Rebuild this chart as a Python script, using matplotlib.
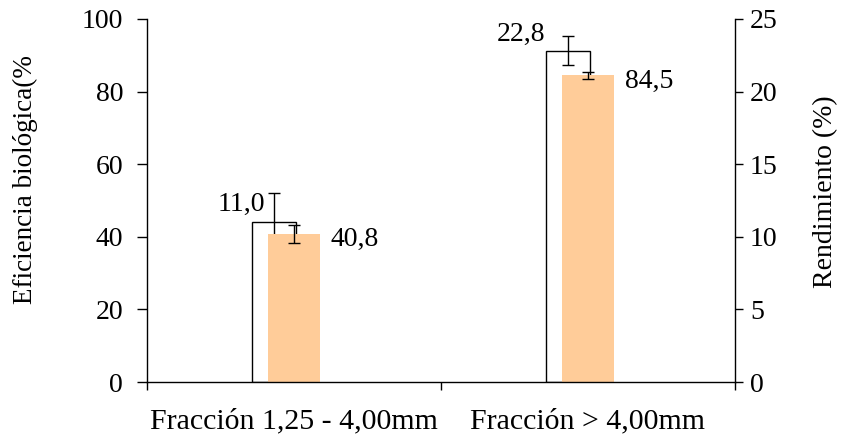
import matplotlib
matplotlib.use("Agg")
import matplotlib.pyplot as plt
import numpy as np

# Data
categories = ["Fracción 1,25 - 4,00mm", "Fracción > 4,00mm"]
rendimiento = [11.0, 22.8]          # %, right axis
rendimiento_err = [2.0, 1.0]
eficiencia = [40.8, 84.5]           # %, left axis
eficiencia_err = [2.4, 1.0]
left_ticks = [0, 20, 40, 60, 80, 100]
right_ticks = [0, 5, 10, 15, 20, 25]

plt.rcParams["font.family"] = ["Liberation Serif", "DejaVu Serif"]

fig = plt.figure(figsize=(8.44, 4.45), dpi=100)
ax = fig.add_axes([147 / 844, 1 - 382 / 445, (735 - 147) / 844, (382 - 19) / 445])
ax2 = ax.twinx()

x = np.arange(len(categories))
w_white = 0.15
w_orange = 0.175
shift_white = -0.068

# Rendimiento: white outlined bars on the right axis
ax2.bar(x + shift_white, rendimiento, width=w_white, facecolor="white",
        edgecolor="black", linewidth=1.0, zorder=2)
ax2.errorbar(x + shift_white, rendimiento, yerr=rendimiento_err, fmt="none",
             ecolor="black", elinewidth=1.0, capsize=4, capthick=1.0, zorder=3)

# Eficiencia biologica: filled bars on the left axis, drawn in front
ax.bar(x, eficiencia, width=w_orange, color="#FFCC99", linewidth=0, zorder=2)
ax.errorbar(x, eficiencia, yerr=eficiencia_err, fmt="none", ecolor="black",
            elinewidth=1.0, capsize=4, capthick=1.0, zorder=3)
ax.set_zorder(ax2.get_zorder() + 1)
ax.patch.set_visible(False)

# Value labels
white_offsets = [(-9, 18), (-23, 17)]
for xi, v, off in zip(x + shift_white, rendimiento, white_offsets):
    ax2.annotate(f"{v:.1f}".replace(".", ","), (xi, v), xytext=off,
                 textcoords="offset pixels", ha="right", va="center", fontsize=20)
for xi, v in zip(x, eficiencia):
    ax.annotate(f"{v:.1f}".replace(".", ","), (xi + w_orange / 2, v), xytext=(11, -6),
                textcoords="offset pixels", ha="left", va="center", fontsize=20)

# Axes ranges and ticks
ax.set_xlim(-0.5, 1.5)
ax.set_ylim(0, 100)
ax2.set_ylim(0, 25)
ax.set_yticks(left_ticks)
ax2.set_yticks(right_ticks)
ax.set_xticks([-0.5, 0.5, 1.5])
ax.set_xticklabels([])
ax.set_xticks(x, minor=True)
ax.set_xticklabels(categories, minor=True, fontsize=21.5)
ax.tick_params(axis="x", which="minor", length=0, pad=19)
ax.tick_params(axis="x", which="major", direction="out", length=6, width=1)
ax.tick_params(axis="y", direction="out", length=7.2, width=1, labelsize=20, pad=10)
ax2.tick_params(axis="y", direction="out", length=5.8, width=1, labelsize=20, pad=5)

for a in (ax, ax2):
    a.spines["top"].set_visible(False)
    for s in a.spines.values():
        s.set_linewidth(1.0)
ax.spines["right"].set_visible(False)
ax2.spines["left"].set_visible(False)
ax2.spines["bottom"].set_visible(False)

fig.text(25 / 844, 1 - 180 / 445, "Eficiencia biológica(%", rotation=90,
         ha="center", va="center", fontsize=19.5)
fig.text(826 / 844, 1 - 192 / 445, "Rendimiento (%)", rotation=90,
         ha="center", va="center", fontsize=20)

fig.savefig("out.png", dpi=100)
